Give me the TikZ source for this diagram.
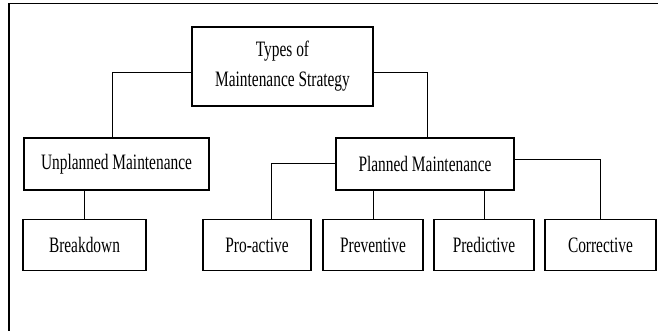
\documentclass[tikz,border=0pt]{standalone}
\usepackage{fontspec}
\setmainfont{Liberation Serif}[FakeStretch=0.7]
\usepackage{tikz}
\usepackage{xcolor}

\begin{document}
\begin{tikzpicture}[x=1pt, y=1pt, node distance=81pt,
    box/.style={rectangle, draw, line width=1.5pt, minimum height=51pt, align=center, font=\fontsize{22}{30}\selectfont},
    link/.style={draw, line width=1pt}]
        \useasboundingbox (0,0) rectangle (658,-331);
        \draw[line width=1.2pt] (9,-331) -- (9,-3.5) -- (658,-3.5);

        \node (types) [box, minimum width=181pt, minimum height=79pt] at (282.5,-66.5) {Types of\\Maintenance Strategy};

        \node (unplanned) [box, below of=types, xshift=-166pt, yshift=-16.5pt, minimum width=185pt, minimum height=52pt] {Unplanned Maintenance};
        \node (planned) [box, below of=types, xshift=142.5pt, yshift=-16.5pt, minimum width=178pt, minimum height=52pt] {Planned Maintenance};

        \node (breakdown) [box, below of=unplanned, xshift=-32pt, minimum width=123pt] {Breakdown};

        \node (proactive) [box, below of=planned, xshift=-168pt, minimum width=108pt] {Pro-active};
        \node (preventive) [box, below of=planned, xshift=-52pt, minimum width=100pt] {Preventive};
        \node (predictive) [box, below of=planned, xshift=59pt, minimum width=100pt] {Predictive};
        \node (corrective) [box, below of=planned, xshift=175.5pt, minimum width=111pt] {Corrective};

        \draw [link] ([yshift=-6pt]types.west) -| ([xshift=-4.5pt]unplanned.north);
        \draw [link] ([yshift=-6pt]types.east) -| ([xshift=2pt]planned.north);

        \draw [link] (breakdown.north) -- (breakdown.north |- unplanned.south);

        \draw [link] (planned.west) -| ([xshift=14pt]proactive.north);
        \draw [link] (preventive.north) -- (preventive.north |- planned.south);
        \draw [link] (predictive.north) -- (predictive.north |- planned.south);
        \draw [link] ([yshift=4pt]planned.east) -| (corrective.north);
    \end{tikzpicture}
\end{document}
